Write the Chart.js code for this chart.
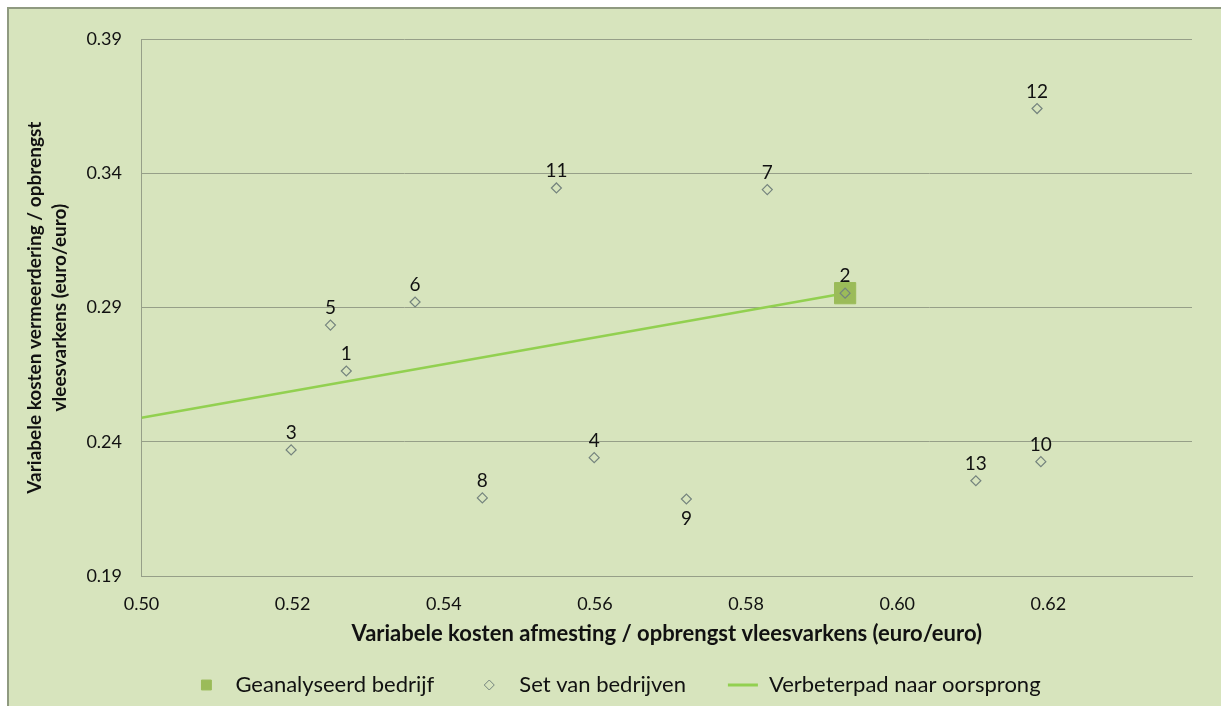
<!DOCTYPE html>
<html>
<head>
<meta charset="utf-8">
<script src="https://cdn.jsdelivr.net/npm/chart.js@4/dist/chart.umd.min.js"></script>
<style>
  html, body { margin: 0; padding: 0; background: #fff; overflow: hidden; }
  #frame {
    position: absolute; left: 7px; top: 7px;
    width: 1214px; height: 699px;
    border-top: 2px solid #8f9a80; border-left: 2px solid #8f9a80;
    background: #d7e4bd;
  }
  #box { position: relative; width: 1212px; height: 697px; }
</style>
</head>
<body>
<div id="frame"><div id="box"><canvas id="scatterChart"></canvas></div></div>
<script>
// data
const companyIds = ['1', '2', '3', '4', '5', '6', '7', '8', '9', '10', '11', '12', '13'];
const setX = [0.5271, 0.5931, 0.5198, 0.5599, 0.5250, 0.5362, 0.5828, 0.5451, 0.5721, 0.6190, 0.5549, 0.6185, 0.6104];
const setY = [0.2664, 0.2954, 0.2370, 0.2341, 0.2835, 0.2921, 0.3340, 0.2191, 0.2187, 0.2326, 0.3346, 0.3642, 0.2255];
const labelsBelow = ['9'];

const focusX = [0.5931];
const focusY = [0.2954];

const pathX = [0.50, 0.5931];
const pathY = [0.2490, 0.2954];

const xTicks = [0.50, 0.52, 0.54, 0.56, 0.58, 0.60, 0.62];
const yTicks = [0.19, 0.24, 0.29, 0.34, 0.39];

const seriesNames = ['Geanalyseerd bedrijf', 'Set van bedrijven', 'Verbeterpad naar oorsprong'];

const gridColor = '#969f88';
const fontFamily = 'Lato, "Open Sans", sans-serif';

function toPoints(xs, ys) {
    return xs.map((x, i) => ({ x: x, y: ys[i] }));
}

// nummers bij de punten
const pointLabelPlugin = {
    id: 'pointLabels',
    afterDatasetsDraw(chart) {
        const ctx = chart.ctx;
        const meta = chart.getDatasetMeta(1);
        ctx.save();
        ctx.font = '19px ' + fontFamily;
        ctx.fillStyle = '#111';
        ctx.textAlign = 'center';
        ctx.textBaseline = 'middle';
        meta.data.forEach((el, i) => {
            const id = companyIds[i];
            const dy = labelsBelow.includes(id) ? 20 : -17;
            ctx.fillText(id, el.x, el.y + dy);
        });
        ctx.restore();
    }
};

// legenda onderaan, zelf getekend voor de ruime tussenafstanden
const legendPlugin = {
    id: 'bottomLegend',
    afterDraw(chart) {
        const ctx = chart.ctx;
        const ds = chart.data.datasets;
        const y = 676;
        ctx.save();
        ctx.font = '22px ' + fontFamily;
        const tw = seriesNames.map(t => ctx.measureText(t).width);
        const textOff = [29, 30, 26];
        const gapAfter = [55, 57];
        const total = 5 + textOff[0] + tw[0] + gapAfter[0] + textOff[1] + tw[1] + gapAfter[1] + textOff[2] + tw[2];
        let cx = 612 - total / 2 + 5;

        for (let i = 0; i < 3; i++) {
            if (i === 2) {
                ctx.strokeStyle = ds[2].borderColor;
                ctx.lineWidth = 3;
                ctx.beginPath();
                ctx.moveTo(cx - 15, y);
                ctx.lineTo(cx + 15, y);
                ctx.stroke();
            } else {
                ctx.fillStyle = ds[i].backgroundColor;
                ctx.strokeStyle = ds[i].borderColor;
                ctx.lineWidth = 1;
                Chart.helpers.drawPoint(ctx, {
                    pointStyle: ds[i].pointStyle,
                    radius: i === 0 ? 7 : 5,
                    rotation: 0,
                    borderWidth: 1
                }, cx, y);
            }
            ctx.fillStyle = '#111';
            ctx.textAlign = 'left';
            ctx.textBaseline = 'middle';
            ctx.fillText(seriesNames[i], cx + textOff[i], y);
            if (i < 2) cx += textOff[i] + tw[i] + gapAfter[i];
        }
        ctx.restore();
    }
};

const ctx = document.getElementById('scatterChart').getContext('2d');

new Chart(ctx, {
    type: 'scatter',
    data: {
        datasets: [
            {
                label: seriesNames[0],
                data: toPoints(focusX, focusY),
                pointStyle: 'rect',
                pointRadius: 15,
                backgroundColor: '#9bbb59',
                borderColor: '#9bbb59',
                borderWidth: 1,
                order: 1
            },
            {
                label: seriesNames[1],
                data: toPoints(setX, setY),
                pointStyle: 'rectRot',
                pointRadius: 5,
                backgroundColor: 'rgba(0,0,0,0)',
                borderColor: '#75847e',
                borderWidth: 1.2,
                order: 0
            },
            {
                label: seriesNames[2],
                data: toPoints(pathX, pathY),
                showLine: true,
                pointRadius: 0,
                borderColor: '#92d050',
                backgroundColor: '#92d050',
                borderWidth: 2.5,
                order: 2
            }
        ]
    },
    options: {
        responsive: true,
        maintainAspectRatio: false,
        animation: false,
        events: [],
        layout: { padding: { left: 0, right: 29, top: 26, bottom: 30 } },
        plugins: {
            legend: { display: false },
            tooltip: { enabled: false }
        },
        scales: {
            x: {
                type: 'linear',
                min: 0.50,
                max: 0.639,
                afterBuildTicks: s => { s.ticks = xTicks.map(v => ({ value: v })); },
                afterFit: s => { s.height = 100; },
                grid: { display: false, drawTicks: false },
                border: { display: true, color: gridColor, width: 1 },
                ticks: {
                    padding: 17,
                    color: '#111',
                    font: { family: fontFamily, size: 18 },
                    callback: v => v.toFixed(2)
                },
                title: {
                    display: true,
                    text: 'Variabele kosten afmesting / opbrengst vleesvarkens (euro/euro)',
                    color: '#111',
                    font: { family: fontFamily, size: 22, weight: 'bold' },
                    padding: { top: 0, bottom: 29 }
                }
            },
            y: {
                type: 'linear',
                min: 0.19,
                max: 0.39,
                afterBuildTicks: s => { s.ticks = yTicks.map(v => ({ value: v })); },
                afterFit: s => { s.width = 132.5; },
                grid: { color: gridColor, lineWidth: 1, drawTicks: false },
                border: { display: true, color: gridColor, width: 1 },
                ticks: {
                    padding: 19.5,
                    color: '#111',
                    font: { family: fontFamily, size: 18 },
                    callback: v => v.toFixed(2)
                },
                title: {
                    display: true,
                    text: ['Variabele kosten vermeerdering / opbrengst', 'vleesvarkens (euro/euro)'],
                    color: '#111',
                    font: { family: fontFamily, size: 19, weight: 'bold', lineHeight: '25px' },
                    padding: { top: 13.5, bottom: 0 }
                }
            }
        }
    },
    plugins: [pointLabelPlugin, legendPlugin]
});
</script>
</body>
</html>
